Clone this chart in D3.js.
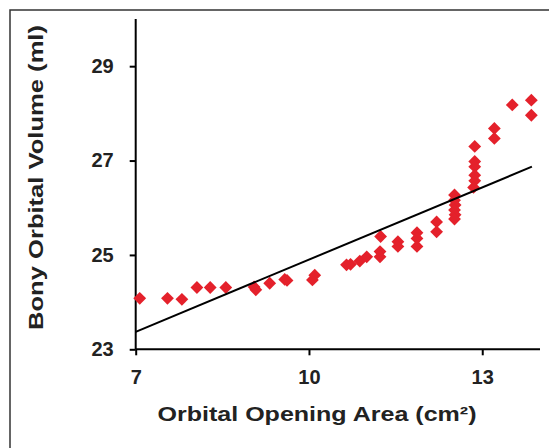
<!DOCTYPE html>
<html>
<head>
<meta charset="utf-8">
<script src="https://cdn.jsdelivr.net/npm/d3@7"></script>
<style>
  html, body { margin: 0; padding: 0; background: #fff; }
  svg { display: block; }
</style>
</head>
<body>
<svg id="chart" width="549" height="448"></svg>
<script>
// Data
const areaValues = [7.07, 7.55, 7.80, 8.06, 8.29, 8.56, 9.05, 9.08, 9.32, 9.58, 9.62, 10.06, 10.10,
  10.65, 10.72, 10.88, 11.00, 11.24, 11.23, 11.23, 11.54, 11.54, 11.87, 11.87, 11.87, 12.21, 12.21,
  12.52, 12.52, 12.53, 12.52, 12.53, 12.52, 12.87, 12.87, 12.87, 12.87, 12.87, 12.85, 13.21, 13.21,
  13.52, 13.85, 13.85];
const volumeValues = [24.08, 24.08, 24.06, 24.31, 24.31, 24.31, 24.32, 24.26, 24.40, 24.48, 24.46, 24.47, 24.57,
  24.79, 24.80, 24.87, 24.96, 25.39, 25.07, 24.96, 25.28, 25.18, 25.47, 25.35, 25.18, 25.70, 25.49,
  26.27, 26.16, 26.06, 25.95, 25.85, 25.76, 27.30, 26.98, 26.87, 26.69, 26.57, 26.43, 27.68, 27.47,
  28.18, 28.28, 27.96];
const trendX = [7, 13.86];
const trendY = [23.37, 26.87];
const xTicks = [7, 10, 13];
const yTicks = [23, 25, 27, 29];
const xTitle = "Orbital Opening Area (cm²)";
const yTitle = "Bony Orbital Volume (ml)";

const svg = d3.select("#chart");

// frame
svg.append("rect")
  .attr("x", 10).attr("y", 10).attr("width", 600).attr("height", 500)
  .attr("fill", "none").attr("stroke", "#333").attr("stroke-width", 1.5);

const x = d3.scaleLinear().domain([7, 14]).range([135.7, 540]);
const y = d3.scaleLinear().domain([23, 30]).range([349.3, 19]);

const fontFam = "'Liberation Sans', Arial, sans-serif";

// axes
const xAxis = svg.append("g").attr("transform", `translate(0,${y(23)})`)
  .call(d3.axisBottom(x).tickValues(xTicks).tickSize(6).tickPadding(6).tickFormat(d3.format("d")));
const yAxis = svg.append("g").attr("transform", `translate(${x(7)},0)`)
  .call(d3.axisLeft(y).tickValues(yTicks).tickSize(6).tickPadding(16).tickFormat(d3.format("d")));

[xAxis, yAxis].forEach(g => {
  g.select(".domain").attr("stroke", "#000").attr("stroke-width", 2);
  g.selectAll(".tick line").attr("stroke", "#000").attr("stroke-width", 2);
  g.selectAll(".tick text").attr("fill", "#222").attr("font-family", fontFam)
    .attr("font-weight", "bold").attr("font-size", 20);
});
// remove outer tick caps from the domain path
xAxis.select(".domain").attr("d", `M${x(7)},0H${x(14)}`);
yAxis.select(".domain").attr("d", `M0,${y(23)}V${y(30)}`);
xAxis.selectAll(".tick line").attr("y2", 6);
xAxis.selectAll(".tick text").attr("dy", "0.71em").attr("y", 21);

// points
const pts = areaValues.map((a, i) => [a, volumeValues[i]]);
const diamond = d3.symbol(d3.symbolSquare, 82);
svg.append("g").selectAll("path").data(pts).join("path")
  .attr("d", diamond)
  .attr("transform", d => `translate(${x(d[0])},${y(d[1])}) rotate(45)`)
  .attr("fill", "#e4212b");

// trend line
svg.append("path")
  .datum(trendX.map((v, i) => [v, trendY[i]]))
  .attr("d", d3.line().x(d => x(d[0])).y(d => y(d[1])))
  .attr("fill", "none").attr("stroke", "#000").attr("stroke-width", 2);

// titles
svg.append("text")
  .attr("x", 317).attr("y", 421)
  .attr("text-anchor", "middle")
  .attr("font-family", fontFam).attr("font-weight", "bold").attr("font-size", 21)
  .attr("fill", "#222")
  .attr("textLength", 319).attr("lengthAdjust", "spacingAndGlyphs")
  .text(xTitle);

svg.append("text")
  .attr("transform", "translate(43,177.5) rotate(-90)")
  .attr("text-anchor", "middle")
  .attr("font-family", fontFam).attr("font-weight", "bold").attr("font-size", 21)
  .attr("fill", "#222")
  .attr("textLength", 305).attr("lengthAdjust", "spacingAndGlyphs")
  .text(yTitle);
</script>
</body>
</html>
